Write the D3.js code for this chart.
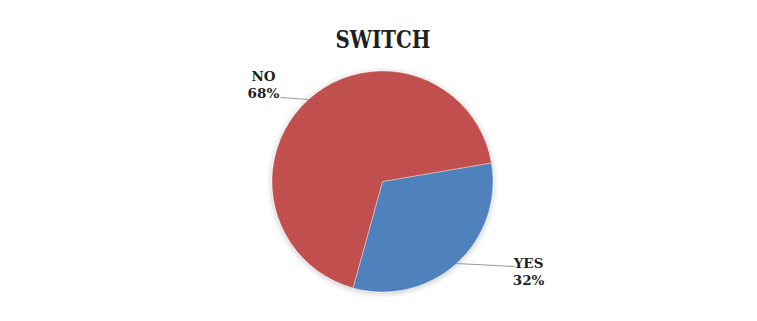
<!DOCTYPE html>
<html>
<head>
<meta charset="utf-8">
<script src="https://cdn.jsdelivr.net/npm/d3@7"></script>
<style>
  html, body { margin: 0; padding: 0; background: #fff; }
  svg { display: block; }
  text { font-family: "DejaVu Serif", "Liberation Serif", serif; font-weight: bold; fill: #1f1f1f; }
</style>
</head>
<body>
<svg id="chart" width="757" height="321"></svg>
<script>
// Survey answers for the "switch" question
const categories = ["YES", "NO"];
const values = [32, 68];
const colors = ["#4F81BD", "#C0504D"];
const title = "SWITCH";

const svg = d3.select("#chart");
const cx = 382.5, cy = 181.5, radius = 110.5;

// soft shadow under the pie
const defs = svg.append("defs");
const f = defs.append("filter").attr("id", "shadow")
  .attr("x", "-20%").attr("y", "-20%").attr("width", "140%").attr("height", "140%");
f.append("feGaussianBlur").attr("in", "SourceAlpha").attr("stdDeviation", 3).attr("result", "b");
f.append("feOffset").attr("in", "b").attr("dx", 0).attr("dy", 1).attr("result", "o");
f.append("feComponentTransfer").attr("in", "o").attr("result", "s")
  .append("feFuncA").attr("type", "linear").attr("slope", 0.25);
const m = f.append("feMerge");
m.append("feMergeNode").attr("in", "s");
m.append("feMergeNode").attr("in", "SourceGraphic");

svg.append("text")
  .attr("x", 383).attr("y", 48)
  .attr("text-anchor", "middle")
  .attr("font-size", 24)
  .attr("textLength", 95)
  .attr("lengthAdjust", "spacingAndGlyphs")
  .text(title);

const start = 80.3 * Math.PI / 180;
const pie = d3.pie().sort(null).value(d => d.value)
  .startAngle(start).endAngle(start + 2 * Math.PI);
const data = pie(categories.map((c, i) => ({ category: c, value: values[i], color: colors[i] })));
const arc = d3.arc().innerRadius(0).outerRadius(radius);

const g = svg.append("g").attr("transform", `translate(${cx},${cy})`);
g.append("g").attr("filter", "url(#shadow)")
  .selectAll("path").data(data).join("path")
  .attr("d", arc)
  .attr("fill", d => d.data.color)
  .attr("stroke", "rgba(255,255,255,0.6)")
  .attr("stroke-width", 0.6);

// leader lines and labels
const labelOffsets = { YES: { lx: 58, ly: 3, tx: 72, ty: 5 }, NO: { lx: -28, ly: -2, tx: -45, ty: -19 } };
const total = d3.sum(values);
data.forEach(d => {
  const a = (d.startAngle + d.endAngle) / 2;
  const ex = Math.sin(a) * radius, ey = -Math.cos(a) * radius;
  const o = labelOffsets[d.data.category];
  g.append("line")
    .attr("x1", ex).attr("y1", ey)
    .attr("x2", ex + o.lx).attr("y2", ey + o.ly)
    .attr("stroke", "#9a9a9a").attr("stroke-width", 1.2);
  const t = g.append("text")
    .attr("text-anchor", "middle")
    .attr("font-size", 13.5)
    .attr("x", ex + o.tx).attr("y", ey + o.ty);
  t.append("tspan").attr("x", ex + o.tx).attr("dy", 0).text(d.data.category);
  t.append("tspan").attr("x", ex + o.tx).attr("dy", 17)
    .text(Math.round(d.data.value / total * 100) + "%");
});
</script>
</body>
</html>
